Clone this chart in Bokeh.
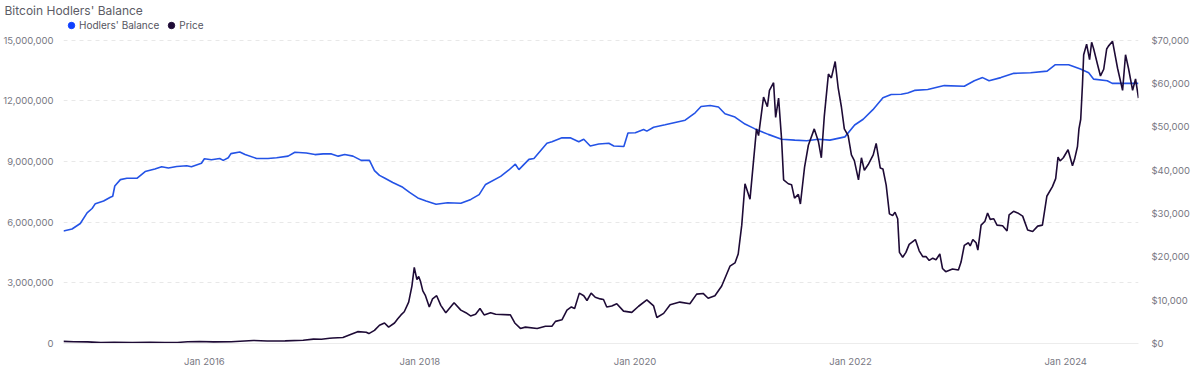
import pandas as pd
from bokeh.plotting import figure
from bokeh.models import (Range1d, LinearAxis, FixedTicker, NumeralTickFormatter,
                          DatetimeTickFormatter, Legend, LegendItem, ColumnDataSource)
from bokeh.embed import file_html
from bokeh.resources import INLINE

title_text = "Bitcoin Hodlers' Balance"
series_names = ["Hodlers' Balance", "Price"]
x_tick_years = [2016, 2018, 2020, 2022, 2024]
balance_ticks = [0, 3000000, 6000000, 9000000, 12000000, 15000000]
price_ticks = [0, 10000, 20000, 30000, 40000, 50000, 60000, 70000]

balance_dates = [
    "2014-09-10", "2014-10-09", "2014-11-06", "2014-11-29", "2014-12-16", "2014-12-27", "2015-01-24", "2015-02-16", "2015-02-24", "2015-03-03",
    "2015-03-22", "2015-04-13", "2015-05-17", "2015-06-14", "2015-07-17", "2015-08-09", "2015-09-01", "2015-09-29", "2015-11-02", "2015-11-18",
    "2015-12-22", "2016-01-01", "2016-01-25", "2016-02-22", "2016-03-05", "2016-03-22", "2016-03-31", "2016-04-30", "2016-05-18", "2016-06-26",
    "2016-08-04", "2016-09-02", "2016-10-11", "2016-11-03", "2016-12-12", "2017-01-10", "2017-02-07", "2017-03-07", "2017-03-30", "2017-04-21",
    "2017-05-19", "2017-06-16", "2017-07-14", "2017-07-31", "2017-08-17", "2017-09-03", "2017-10-01", "2017-11-04", "2017-11-27", "2017-12-25",
    "2018-01-22", "2018-02-25", "2018-04-05", "2018-05-20", "2018-06-23", "2018-07-21", "2018-08-12", "2018-10-02", "2018-10-30", "2018-11-21",
    "2018-12-03", "2019-01-06", "2019-01-23", "2019-03-08", "2019-03-25", "2019-04-28", "2019-05-26", "2019-06-24", "2019-07-11", "2019-08-02",
    "2019-08-31", "2019-10-04", "2019-10-21", "2019-11-24", "2019-12-08", "2020-01-02", "2020-01-30", "2020-02-10", "2020-03-04", "2020-04-12",
    "2020-05-16", "2020-06-19", "2020-07-23", "2020-08-12", "2020-09-12", "2020-10-10", "2020-11-01", "2020-12-05", "2021-01-08", "2021-02-11",
    "2021-03-28", "2021-05-12", "2021-06-26", "2021-08-05", "2021-09-14", "2021-10-23", "2021-12-13", "2022-01-15", "2022-02-13", "2022-03-18",
    "2022-04-21", "2022-05-19", "2022-06-22", "2022-07-14", "2022-08-06", "2022-09-20", "2022-11-15", "2023-01-22", "2023-02-25", "2023-03-25",
    "2023-04-16", "2023-05-26", "2023-07-09", "2023-09-04", "2023-10-30", "2023-11-27", "2024-01-11", "2024-02-20", "2024-03-19", "2024-04-05",
    "2024-05-21", "2024-06-07", "2024-09-04",
]
balance_values = [
    5571000, 5667000, 5938000, 6462000, 6681000, 6919000, 7048000, 7238000, 7286000, 7795000,
    8110000, 8176000, 8176000, 8510000, 8633000, 8748000, 8681000, 8762000, 8795000, 8748000,
    8919000, 9143000, 9095000, 9157000, 9062000, 9190000, 9395000, 9476000, 9348000, 9157000,
    9157000, 9190000, 9271000, 9462000, 9429000, 9348000, 9381000, 9381000, 9271000, 9348000,
    9271000, 9062000, 9062000, 8557000, 8319000, 8190000, 7967000, 7729000, 7476000, 7205000,
    7048000, 6890000, 6967000, 6938000, 7129000, 7367000, 7871000, 8271000, 8586000, 8871000,
    8605000, 9110000, 9157000, 9905000, 9986000, 10176000, 10176000, 9986000, 10110000, 9776000,
    9871000, 9905000, 9776000, 9748000, 10414000, 10429000, 10586000, 10510000, 10700000, 10824000,
    10938000, 11048000, 11414000, 11729000, 11776000, 11700000, 11367000, 11205000, 10857000, 10619000,
    10348000, 10110000, 10062000, 10033000, 10110000, 10062000, 10224000, 10810000, 11095000, 11571000,
    12157000, 12319000, 12333000, 12395000, 12524000, 12571000, 12762000, 12729000, 13000000, 13157000,
    13000000, 13157000, 13367000, 13395000, 13476000, 13795000, 13795000, 13586000, 13395000, 13081000,
    13000000, 12871000, 12871000,
]

price_dates = [
    "2014-09-10", "2014-10-15", "2014-12-01", "2015-01-15", "2015-03-01", "2015-05-01", "2015-07-01", "2015-08-20", "2015-10-01", "2015-11-05",
    "2015-12-15", "2016-02-01", "2016-04-01", "2016-06-15", "2016-08-01", "2016-10-01", "2016-12-01", "2017-01-05", "2017-02-01", "2017-03-01",
    "2017-03-12", "2017-04-15", "2017-05-13", "2017-06-04", "2017-07-03", "2017-07-12", "2017-07-31", "2017-08-17", "2017-09-03", "2017-09-17",
    "2017-10-07", "2017-10-18", "2017-10-29", "2017-11-09", "2017-11-24", "2017-12-05", "2017-12-13", "2017-12-22", "2017-12-28", "2018-01-03",
    "2018-01-11", "2018-01-20", "2018-02-02", "2018-02-13", "2018-02-27", "2018-03-13", "2018-03-30", "2018-04-27", "2018-05-20", "2018-06-06",
    "2018-06-22", "2018-07-09", "2018-07-24", "2018-08-07", "2018-08-29", "2018-09-15", "2018-11-04", "2018-11-19", "2018-12-08", "2018-12-25",
    "2019-02-03", "2019-03-03", "2019-03-25", "2019-04-06", "2019-04-28", "2019-05-15", "2019-05-30", "2019-06-10", "2019-06-26", "2019-07-11",
    "2019-07-22", "2019-08-05", "2019-08-19", "2019-09-05", "2019-09-16", "2019-09-27", "2019-10-14", "2019-10-31", "2019-11-23", "2019-12-21",
    "2020-01-13", "2020-02-10", "2020-03-04", "2020-03-15", "2020-04-07", "2020-04-29", "2020-06-01", "2020-07-05", "2020-07-28", "2020-08-19",
    "2020-09-05", "2020-09-28", "2020-10-21", "2020-11-18", "2020-12-05", "2020-12-16", "2020-12-28", "2021-01-08", "2021-01-25", "2021-02-16",
    "2021-02-23", "2021-03-12", "2021-03-25", "2021-04-01", "2021-04-15", "2021-04-22", "2021-05-02", "2021-05-12", "2021-05-19", "2021-06-04",
    "2021-06-15", "2021-06-25", "2021-07-08", "2021-07-15", "2021-07-29", "2021-08-11", "2021-08-31", "2021-09-14", "2021-09-24", "2021-10-04",
    "2021-10-18", "2021-10-28", "2021-11-10", "2021-11-20", "2021-12-01", "2021-12-11", "2021-12-24", "2022-01-04", "2022-01-14", "2022-01-28",
    "2022-02-07", "2022-02-17", "2022-03-02", "2022-03-19", "2022-03-29", "2022-04-12", "2022-04-21", "2022-05-02", "2022-05-13", "2022-05-24",
    "2022-06-01", "2022-06-10", "2022-06-16", "2022-06-27", "2022-07-08", "2022-07-19", "2022-08-09", "2022-08-22", "2022-09-03", "2022-09-14",
    "2022-09-25", "2022-10-07", "2022-10-18", "2022-10-31", "2022-11-09", "2022-11-20", "2022-12-13", "2023-01-02", "2023-01-11", "2023-01-22",
    "2023-02-05", "2023-02-11", "2023-02-20", "2023-03-03", "2023-03-09", "2023-03-20", "2023-04-02", "2023-04-11", "2023-04-20", "2023-05-02",
    "2023-05-13", "2023-06-01", "2023-06-16", "2023-06-23", "2023-07-08", "2023-07-22", "2023-08-08", "2023-08-25", "2023-09-11", "2023-09-28",
    "2023-10-14", "2023-10-29", "2023-11-17", "2023-11-28", "2023-12-06", "2023-12-13", "2023-12-24", "2024-01-09", "2024-01-24", "2024-01-31",
    "2024-02-10", "2024-02-15", "2024-02-21", "2024-02-27", "2024-03-02", "2024-03-12", "2024-03-22", "2024-03-29", "2024-04-05", "2024-04-18",
    "2024-04-28", "2024-05-09", "2024-05-19", "2024-05-25", "2024-06-08", "2024-06-25", "2024-07-12", "2024-07-22", "2024-08-01", "2024-08-15",
    "2024-08-25", "2024-09-04",
]
price_values = [
    480, 390, 375, 210, 255, 235, 260, 230, 240, 390,
    450, 375, 415, 700, 580, 615, 750, 1000, 980, 1200,
    1260, 1400, 2150, 2740, 2600, 2290, 3040, 4220, 4740, 3780,
    4740, 5700, 6600, 7330, 9560, 13270, 17560, 14740, 15480, 14370,
    12150, 11040, 8440, 10300, 11040, 8810, 7110, 9400, 7700, 7110,
    6370, 6740, 8070, 6600, 7110, 6740, 6600, 4740, 3480, 3780,
    3480, 4000, 4000, 5110, 5480, 7700, 8440, 8070, 11630, 11040,
    9930, 11630, 10670, 10300, 10150, 8440, 8670, 9190, 7480, 7180,
    8600, 10070, 8670, 6000, 6960, 8960, 9560, 9190, 11400, 11560,
    10440, 11040, 13270, 17850, 18600, 20670, 27330, 36890, 33330, 49560,
    48000, 56890, 54670, 58440, 60220, 52220, 56670, 47330, 37780, 36890,
    36670, 33560, 34440, 32220, 40670, 45780, 49560, 46670, 42890, 52440,
    62220, 61330, 65110, 59110, 54670, 49560, 48000, 43560, 42220, 37780,
    42890, 40000, 41330, 43560, 46220, 40520, 40300, 36590, 29930, 29560,
    30300, 28810, 21040, 19930, 21040, 22890, 24000, 21400, 20070, 20070,
    19180, 19700, 19330, 20670, 17330, 16590, 17190, 16960, 18810, 22670,
    23260, 22520, 24000, 23260, 21560, 27330, 28220, 30150, 28670, 28810,
    27330, 27180, 26000, 29700, 30520, 30150, 29410, 26220, 25850, 27110,
    27330, 34000, 36220, 38070, 43040, 42150, 42890, 44740, 41040, 42520,
    45480, 49560, 51780, 59930, 66670, 69110, 65560, 69560, 68000, 64440,
    61780, 63330, 68000, 68670, 69780, 63560, 58440, 66670, 63560, 58440,
    61110, 56670,
]

BLUE = "#2453e6"
DARK = "#1e0b36"
FONT = "Inter"
TICK_COLOR = "#777782"

W, H = 1200, 369
BORDER_L, BORDER_R, BORDER_T, BORDER_B = 60, 62, 15, 26
FRAME_H = H - BORDER_T - BORDER_B
TOP_PAD = 23   # pixels between frame top and the highest tick, leaves room for the legend
scale_up = FRAME_H / (FRAME_H - TOP_PAD)

bal_x = pd.to_datetime(balance_dates)
price_x = pd.to_datetime(price_dates)
bal_src = ColumnDataSource(dict(x=bal_x, y=balance_values))
price_src = ColumnDataSource(dict(x=price_x, y=price_values))

x_start = min(bal_x.min(), price_x.min()).to_pydatetime()
x_end = max(bal_x.max(), price_x.max()).to_pydatetime()

p = figure(width=W, height=H, x_axis_type="datetime",
           x_range=Range1d(x_start, x_end),
           y_range=Range1d(balance_ticks[0], balance_ticks[-1] * scale_up),
           output_backend="svg", toolbar_location=None,
           min_border_left=BORDER_L, min_border_right=BORDER_R,
           min_border_top=BORDER_T, min_border_bottom=BORDER_B,
           outline_line_color=None)

p.title.text = title_text
p.title.text_font = FONT
p.title.text_font_size = "12px"
p.title.text_font_style = "normal"
p.title.text_color = "#5c5c66"
p.title.offset = -(BORDER_L - 1)
p.title.standoff = 0

p.extra_y_ranges = {"price": Range1d(price_ticks[0], price_ticks[-1] * scale_up)}

r_bal = p.line("x", "y", source=bal_src, line_color=BLUE, line_width=1.6)
r_price = p.line("x", "y", source=price_src, line_color=DARK, line_width=1.6, y_range_name="price")

# legend proxies: circle markers (hidden in the plot, shown in the legend only)
leg_bal = p.scatter("x", "y", source=bal_src, marker="circle", size=9,
                    fill_color="#0f40ff", line_color="#0f40ff", visible=False)
leg_price = p.scatter("x", "y", source=price_src, marker="circle", size=9,
                      fill_color=DARK, line_color=DARK, y_range_name="price", visible=False)

legend = Legend(items=[LegendItem(label=series_names[0], renderers=[leg_bal]),
                       LegendItem(label=series_names[1], renderers=[leg_price])],
                orientation="horizontal", location="top_left",
                label_text_font=FONT, label_text_font_size="10px", label_text_color="#555560",
                glyph_width=16, glyph_height=16, label_standoff=0, spacing=4,
                padding=0, margin=0, border_line_alpha=0, background_fill_alpha=0)
p.add_layout(legend, "center")

# left axis
yl = p.yaxis[0]
yl.ticker = FixedTicker(ticks=balance_ticks)
yl.formatter = NumeralTickFormatter(format="0,0")
# right axis
yr = LinearAxis(y_range_name="price", ticker=FixedTicker(ticks=price_ticks),
                formatter=NumeralTickFormatter(format="$0,0"))
p.add_layout(yr, "right")

for ax, so in [(yl, 4), (yr, 7)]:
    ax.axis_line_color = None
    ax.major_tick_line_color = None
    ax.minor_tick_line_color = None
    ax.major_label_text_font = FONT
    ax.major_label_text_font_size = "9.5px"
    ax.major_label_text_color = TICK_COLOR
    ax.major_label_standoff = so

xa = p.xaxis[0]
xa.ticker = FixedTicker(ticks=[pd.Timestamp(year=y_, month=1, day=1).value // 10**6 for y_ in x_tick_years])
xa.formatter = DatetimeTickFormatter(years="%b %Y", months="%b %Y", days="%b %Y")
xa.axis_line_color = "#ececec"
xa.major_tick_line_color = None
xa.minor_tick_line_color = None
xa.major_label_text_font = FONT
xa.major_label_text_font_size = "9.5px"
xa.major_label_text_color = TICK_COLOR
xa.major_label_standoff = 6

p.xgrid.visible = False
p.ygrid.grid_line_color = "#e8e8e8"
p.ygrid.grid_line_dash = "4 4"
p.ygrid.ticker = FixedTicker(ticks=balance_ticks[1:])

open("out.html", "w").write(file_html(p, INLINE))
